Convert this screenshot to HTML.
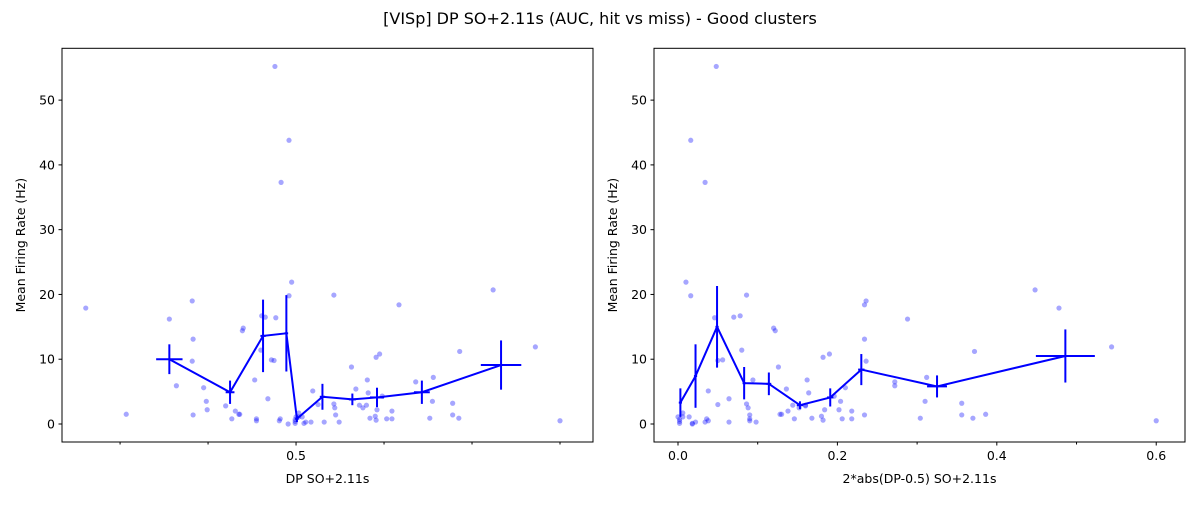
<!DOCTYPE html>
<html><head><meta charset="utf-8"><style>
body{margin:0;background:#fff;}
svg text{font-family:"DejaVu Sans","Liberation Sans",sans-serif;fill:#000;}
</style></head><body>
<svg id="c" width="1200" height="500" xmlns="http://www.w3.org/2000/svg">
<text x="600" y="24" font-size="16" text-anchor="middle">[VISp] DP SO+2.11s (AUC, hit vs miss) - Good clusters</text>
</svg>
<script>
const dpValues=[0.261,0.382,0.356,0.383,0.364,0.307,0.383,0.395,0.398,0.399,0.420,0.427,0.431,0.435,0.436,0.439,0.440,0.453,0.455,0.455,0.460,0.461,0.468,0.472,0.477,0.481,0.482,0.491,0.492,0.495,0.499,0.499,0.499,0.500,0.503,0.503,0.507,0.509,0.511,0.517,0.519,0.525,0.532,0.543,0.543,0.544,0.545,0.549,0.563,0.568,0.572,0.576,0.580,0.581,0.582,0.584,0.591,0.595,0.590,0.591,0.592,0.598,0.603,0.609,0.609,0.617,0.636,0.652,0.655,0.656,0.678,0.678,0.685,0.686,0.724,0.772,0.800,0.476,0.492,0.483,0.465,0.475,0.382];
const rateValues=[17.9,19.0,16.2,13.1,5.9,1.5,1.4,5.6,3.5,2.2,2.8,0.8,2.0,1.5,1.5,14.4,14.8,6.8,0.8,0.5,11.4,16.7,3.9,9.9,16.4,0.5,0.8,0.0,19.8,21.9,0.1,0.4,0.7,1.1,1.7,1.1,1.1,0.1,0.3,0.3,5.1,3.0,0.3,19.9,3.1,2.5,1.4,0.3,8.8,5.4,2.9,2.5,2.9,6.8,4.8,0.9,10.3,10.8,1.2,0.6,2.2,4.3,0.8,0.8,2.0,18.4,6.5,0.9,3.5,7.2,3.2,1.4,0.9,11.2,20.7,11.9,0.5,55.2,43.8,37.3,16.5,9.8,9.7];
const leftBinX=[0.356,0.425,0.4625,0.489,0.501,0.530,0.564,0.592,0.643,0.733];
const leftBinY=[10.0,4.9,13.6,14.0,0.8,4.2,3.8,4.1,4.9,9.1];
const leftBinXErr=[0.015,0.005,0.003,0.002,0.002,0.003,0.004,0.008,0.009,0.023];
const leftBinYErr=[2.3,1.8,5.6,5.9,0.5,2.0,0.9,1.5,1.8,3.8];
const rightBinX=[0.003,0.022,0.049,0.083,0.114,0.153,0.191,0.230,0.325,0.486];
const rightBinY=[3.3,7.4,15.0,6.3,6.2,2.9,4.1,8.4,5.8,10.5];
const rightBinXErr=[0.002,0.002,0.002,0.002,0.003,0.004,0.004,0.004,0.0125,0.037];
const rightBinYErr=[2.2,4.9,6.3,2.5,1.75,0.6,1.4,2.4,1.7,4.1];
const yTicks=[0,10,20,30,40,50];
const leftMinorTicks=[0.3,0.4,0.6,0.7,0.8];
const leftMajorTicks=[0.5];
const rightTicks=[0.0,0.2,0.4,0.6];

const svg=document.getElementById('c');
const NS='http://www.w3.org/2000/svg';
function mk(tag,attrs,parent){const e=document.createElementNS(NS,tag);for(const k in attrs)e.setAttribute(k,attrs[k]);(parent||svg).appendChild(e);return e;}

function panel(cfg){
  const {x0,x1,xmin,xmax,name}=cfg;
  const y0=48.3,y1=442,ymin=-2.78,ymax=58.0;
  const X=v=>x0+(v-xmin)/(xmax-xmin)*(x1-x0);
  const Y=v=>y1-(v-ymin)/(ymax-ymin)*(y1-y0);
  const g=mk('g',{});
  
  
  cfg.px.forEach((v,i)=>{
    const c=mk('circle',{cx:X(v),cy:Y(cfg.py[i]),r:2.6,fill:'#0000ff','fill-opacity':0.35},g);
    
    
  });
  const pts=cfg.bx.map((v,i)=>X(v)+','+Y(cfg.by[i])).join(' ');
  const pl=mk('polyline',{points:pts,fill:'none',stroke:'#0000ff','stroke-width':2},g);
  
  
  cfg.bx.forEach((v,i)=>{
    const e1=mk('line',{x1:X(v-cfg.bxe[i]),x2:X(v+cfg.bxe[i]),y1:Y(cfg.by[i]),y2:Y(cfg.by[i]),stroke:'#0000ff','stroke-width':2},g);
    
    
    const e2=mk('line',{x1:X(v),x2:X(v),y1:Y(cfg.by[i]-cfg.bye[i]),y2:Y(cfg.by[i]+cfg.bye[i]),stroke:'#0000ff','stroke-width':2},g);
    
    
  });
  const fr=mk('rect',{x:x0,y:y0,width:x1-x0,height:y1-y0,fill:'none',stroke:'#000','stroke-width':1},g);
  
  
  yTicks.forEach(t=>{
    mk('line',{x1:x0-3.5,x2:x0,y1:Y(t),y2:Y(t),stroke:'#000'},g);
    const tx=mk('text',{x:x0-7,y:Y(t)+4.5,'font-size':12.5,'text-anchor':'end'},g);
    tx.textContent=t;
    
    
  });
  cfg.minor.forEach(t=>mk('line',{x1:X(t),x2:X(t),y1:y1,y2:y1+2.5,stroke:'#000'},g));
  cfg.major.forEach(t=>{
    mk('line',{x1:X(t),x2:X(t),y1:y1,y2:y1+3.5,stroke:'#000'},g);
    const tx=mk('text',{x:X(t),y:y1+18,'font-size':12.5,'text-anchor':'middle'},g);
    tx.textContent=cfg.fmt(t);
    
    
  });
  const xl=mk('text',{x:(x0+x1)/2,y:483,'font-size':12.5,'text-anchor':'middle'},g);
  xl.textContent=cfg.xlabel;
  
  
  const yl=mk('text',{x:0,y:0,'font-size':12.5,'text-anchor':'middle',transform:`translate(${x0-37},${(y0+y1)/2}) rotate(-90)`},g);
  yl.textContent='Mean Firing Rate (Hz)';
  
  
}
panel({name:'left',x0:62,x1:593,xmin:0.234,xmax:0.8375,px:dpValues,py:rateValues,bx:leftBinX,by:leftBinY,bxe:leftBinXErr,bye:leftBinYErr,minor:leftMinorTicks,major:leftMajorTicks,fmt:t=>t.toFixed(1),xlabel:'DP SO+2.11s'});
panel({name:'right',x0:654,x1:1185,xmin:-0.0301,xmax:0.6361,px:dpValues.map(d=>2*Math.abs(d-0.5)),py:rateValues,bx:rightBinX,by:rightBinY,bxe:rightBinXErr,bye:rightBinYErr,minor:[0.1,0.3,0.5],major:rightTicks,fmt:t=>t.toFixed(1),xlabel:'2*abs(DP-0.5) SO+2.11s'});
</script>
</body></html>
